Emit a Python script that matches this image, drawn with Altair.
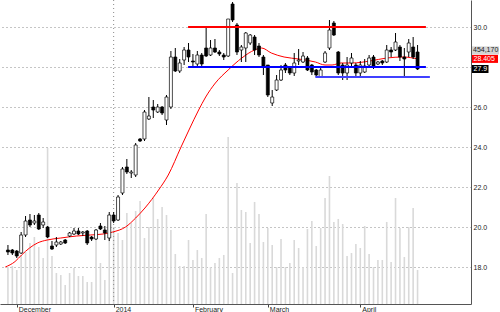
import altair as alt
import pandas as pd

# ---- data ----
opens = [18.85, 18.85, 18.8, 18.7, 19.6, 20.35, 20.2, 20.6, 20.1, 20.0,
         19.05, 19.1, 19.15, 19.35, 19.55, 19.65, 19.8, 19.7, 19.8, 19.5,
         19.4, 20.05, 19.85, 19.45, 20.6, 20.35, 21.7, 23.0, 22.7, 22.6,
         24.4, 24.4, 25.4, 26.0, 25.75, 26.0, 25.35, 26.0, 28.5, 27.8,
         28.35, 28.85, 28.3, 28.15, 28.6, 28.95, 28.6, 28.95, 28.75, 28.6,
         28.55, 31.15, 30.1, 28.85, 28.95, 29.2, 29.5, 29.05, 28.5, 28.1,
         26.2, 26.85, 27.35, 28.1, 28.0, 27.7, 28.3, 28.25, 28.45, 28.1,
         27.85, 27.5, 28.25, 28.95, 30.2, 28.75, 28.1, 27.7, 28.2, 28.1,
         27.7, 27.75, 28.1, 28.5, 28.15, 28.3, 28.25, 28.85, 28.85, 29.0,
         28.5, 28.75, 29.0, 28.75]
highs = [19.1, 18.9, 18.85, 19.75, 20.55, 20.65, 20.6, 20.7, 20.45, 20.05,
         19.3, 19.5, 19.3, 19.4, 19.75, 19.95, 19.95, 19.8, 19.85, 19.55,
         19.9, 20.2, 20.05, 20.75, 20.75, 21.6, 23.0, 23.4, 22.85, 24.2,
         24.45, 25.85, 26.5, 26.35, 26.15, 26.05, 26.6, 28.8, 28.95, 28.4,
         29.0, 29.2, 28.65, 28.8, 28.7, 30.0, 29.35, 29.4, 28.85, 28.7,
         30.4, 31.25, 30.2, 29.1, 29.75, 29.65, 29.6, 29.2, 28.6, 28.1,
         26.85, 27.6, 28.1, 28.2, 28.05, 28.7, 28.9, 28.75, 28.55, 28.15,
         27.9, 27.95, 28.8, 30.35, 30.3, 28.8, 28.2, 28.5, 28.7, 28.2,
         28.3, 28.4, 28.6, 28.6, 28.3, 28.35, 29.1, 29.0, 29.7, 29.1,
         28.95, 29.4, 29.5, 29.1]
lows = [18.6, 18.6, 18.45, 18.65, 19.5, 20.0, 20.1, 19.85, 19.95, 19.45,
        18.85, 19.0, 19.1, 19.15, 19.5, 19.6, 19.6, 19.55, 19.1, 19.3,
        19.35, 19.85, 19.35, 19.3, 20.2, 20.3, 21.6, 22.65, 22.45, 22.5,
        24.25, 24.3, 25.35, 25.45, 25.7, 25.6, 25.1, 25.9, 27.75, 27.7,
        28.1, 28.25, 28.0, 28.0, 28.0, 28.5, 28.55, 28.7, 28.55, 28.35,
        28.5, 30.25, 28.6, 28.25, 28.25, 29.1, 28.6, 28.5, 27.6, 26.5,
        26.05, 26.8, 27.3, 27.7, 27.6, 27.55, 28.1, 28.2, 27.8, 27.6,
        27.5, 27.45, 28.2, 28.85, 29.55, 27.6, 27.35, 27.35, 28.05, 27.5,
        27.45, 27.7, 28.0, 27.9, 28.1, 28.1, 28.2, 28.5, 28.8, 28.3,
        27.45, 28.5, 28.4, 27.85]
closes = [18.75, 18.7, 18.55, 19.6, 20.3, 20.1, 20.3, 19.9, 20.25, 19.5,
          18.9, 19.25, 19.25, 19.2, 19.7, 19.8, 19.65, 19.75, 19.2, 19.4,
          19.85, 19.9, 19.7, 20.6, 20.3, 21.5, 22.9, 22.75, 22.75, 24.1,
          24.3, 25.75, 25.55, 25.85, 26.0, 25.7, 26.5, 28.5, 27.8, 28.2,
          28.85, 28.5, 28.25, 28.6, 28.15, 28.55, 28.95, 28.75, 28.65, 28.5,
          30.4, 30.35, 28.75, 29.0, 29.7, 29.6, 28.85, 28.6, 28.0, 26.6,
          26.5, 27.35, 27.85, 27.85, 27.7, 28.2, 28.35, 28.55, 27.85, 27.75,
          27.6, 27.85, 28.7, 29.85, 29.6, 27.7, 27.7, 28.1, 28.45, 27.7,
          28.1, 28.05, 28.45, 28.0, 28.25, 28.2, 28.85, 28.75, 29.25, 28.5,
          28.4, 29.2, 28.5, 27.9]
volumes = [494000, 508000, 454000, 655000, 695000, 815000, 895000, 762000, 615000, 2084000,
           641000, 414000, 387000, 254000, 414000, 481000, 374000, 374000, 294000, 294000,
           989000, 548000, 321000, 1055000, 1029000, 949000, 855000, 1216000, 1082000, 1242000,
           1376000, 882000, 1029000, 1416000, 1136000, 1296000, 1189000, 989000, 668000, 508000,
           508000, 855000, 588000, 721000, 615000, 1202000, 494000, 548000, 615000, 655000,
           2231000, 414000, 1617000, 1256000, 1229000, 815000, 1363000, 1202000, 828000, 1015000,
           788000, 494000, 868000, 494000, 548000, 855000, 748000, 494000, 1002000, 1109000,
           775000, 1015000, 1416000, 1710000, 1096000, 1136000, 1069000, 641000, 681000, 802000,
           748000, 1042000, 668000, 494000, 588000, 588000, 1096000, 561000, 1416000, 1015000,
           628000, 1029000, 1283000, 454170]

ma_x = [-0.6, 1.6, 3.1, 4.9, 6.7, 8.9, 12, 15.6, 18.7, 21.6, 23.8, 26.7, 29, 31.1,
        34.2, 36.4, 39.3, 41.1, 43.3, 44.9, 47.1, 50, 53.1, 56, 57.6, 59.8, 62.7,
        66, 69.8, 72, 73.6, 75.6, 78.2, 82.2, 86, 89.8, 93]
ma_v = [18.0, 18.27, 18.6, 18.95, 19.2, 19.35, 19.45, 19.55, 19.6, 19.65, 19.75,
        20.0, 20.45, 20.95, 21.85, 22.6, 24.0, 24.85, 25.85, 26.5, 27.2, 27.85,
        28.45, 28.85, 28.95, 28.7, 28.5, 28.4, 28.25, 28.1, 28.1, 28.2, 28.2,
        28.3, 28.45, 28.5, 28.405]

month_ticks = [2, 24, 42, 59, 80]
month_labels = ["December", "2014", "February", "March", "April"]
price_ticks = [18, 20, 22, 24, 26, 28, 30]

level_vals = [30.0, 28.0, 27.5]
level_start = [40.9, 40.9, 69.8]
level_end = [94.9, 94.9, 95.8]
level_kind = ["resistance", "support", "support2"]

# ---- tables ----
candles = pd.DataFrame({
    "i": list(range(len(opens))),
    "open": opens, "high": highs, "low": lows, "close": closes,
    "volume": volumes,
})
ma = pd.DataFrame({"i": ma_x, "v": ma_v})
levels = pd.DataFrame({"y": level_vals, "x1": level_start, "x2": level_end,
                       "kind": level_kind})
year_line = pd.DataFrame({"x": [month_ticks[1]]})
last_ma = pd.DataFrame({"v": [ma_v[-1]], "vol": [volumes[-1]]})
last_close = pd.DataFrame({"v": [closes[-1]]})

FONT = "Liberation Sans"

label_expr = "''"
for t, l in reversed(list(zip(month_ticks, month_labels))):
    label_expr = f"datum.value == {t} ? '{l}' : ({label_expr})"

xscale = alt.Scale(domain=[-0.667, 104], nice=False, zero=False)
xaxis = alt.Axis(values=month_ticks, labelExpr=label_expr, grid=False, title=None,
                 tickSize=3, tickColor="#444", domainColor="#555", labelAlign="left",
                 labelOffset=1.5, labelPadding=-1.5, labelFontSize=7, labelFont=FONT,
                 labelColor="#222", labelBaseline="top", labelOverlap=False,
                 labelFlush=False, labelBound=False)
yscale = alt.Scale(domain=[16.15, 31.35], nice=False, zero=False)
yaxis = alt.Axis(orient="right", values=price_ticks, format=".1f", title=None,
                 grid=True, gridDash=[1, 3], gridColor="#8a8a8a", ticks=False,
                 labelPadding=2, domainColor="#555", labelFontSize=7, labelFont=FONT,
                 labelColor="#222", labelBaseline="middle")


def xenc(field):
    return alt.X(field, type="quantitative", scale=xscale, axis=xaxis)


def yenc(field):
    return alt.Y(field, type="quantitative", scale=yscale, axis=yaxis)


volume_layer = alt.Chart(candles).mark_bar(size=1.6, color="#d9d9d9").encode(
    x=xenc("i"),
    y=alt.Y("volume:Q", scale=alt.Scale(domain=[0, 4061000], nice=False), axis=None),
)

year_rule = alt.Chart(year_line).mark_rule(color="#8a8a8a", strokeDash=[1, 3]).encode(
    x=xenc("x"))

ma_line = alt.Chart(ma).mark_line(color="#ff0000", strokeWidth=1,
                                  interpolate="monotone").encode(
    x=xenc("i"), y=yenc("v"))

wicks = alt.Chart(candles).mark_rule(color="black", strokeWidth=1).encode(
    x=xenc("i"), y=yenc("low"), y2="high")

bodies = alt.Chart(candles).mark_bar(size=3, stroke="black", strokeWidth=0.7).encode(
    x=xenc("i"), y=yenc("open"), y2="close",
    fill=alt.condition("datum.close >= datum.open", alt.value("white"), alt.value("black")),
)

level_lines = alt.Chart(levels).mark_rule().encode(
    x=xenc("x1"), x2="x2", y=yenc("y"),
    color=alt.Color("kind:N", scale=alt.Scale(domain=level_kind,
                                              range=["#ff0000", "#0000ff", "#4040ff"]),
                    legend=None),
    strokeWidth=alt.StrokeWidth("kind:N", scale=alt.Scale(domain=level_kind,
                                                          range=[2, 2, 1]),
                                legend=None),
)

vol_box = alt.Chart(last_ma).transform_calculate(
    t="datum.v + 0.2", b="datum.v - 0.2").mark_rect(
    color="#d4d4d4", yOffset=-8.5, y2Offset=-8.5).encode(
    x=alt.value(472), x2=alt.value(499), y=yenc("t:Q"), y2="b:Q")
vol_text = alt.Chart(last_ma).transform_calculate(
    txt="format(datum.vol, ',')").mark_text(
    align="left", baseline="middle", fontSize=7, font=FONT, color="#222",
    yOffset=-8.5).encode(x=alt.value(473), y=yenc("v:Q"), text="txt:N")

ma_box = alt.Chart(last_ma).transform_calculate(
    t="datum.v + 0.2", b="datum.v - 0.2").mark_rect(color="#ff0000").encode(
    x=alt.value(472), x2=alt.value(498), y=yenc("t:Q"), y2="b:Q")
ma_text = alt.Chart(last_ma).transform_calculate(
    txt="format(datum.v, '.3f')").mark_text(
    align="left", baseline="middle", fontSize=7, font=FONT, color="white").encode(
    x=alt.value(473.5), y=yenc("v:Q"), text="txt:N")

close_box = alt.Chart(last_close).transform_calculate(
    t="datum.v + 0.2", b="datum.v - 0.2").mark_rect(color="black").encode(
    x=alt.value(472), x2=alt.value(488.5), y=yenc("t:Q"), y2="b:Q")
close_text = alt.Chart(last_close).transform_calculate(
    txt="format(datum.v, '.1f')").mark_text(
    align="left", baseline="middle", fontSize=7, font=FONT, color="white").encode(
    x=alt.value(473.5), y=yenc("v:Q"), text="txt:N")

price_layers = alt.layer(year_rule, ma_line, wicks, bodies, level_lines,
                         vol_box, vol_text, ma_box, ma_text, close_box, close_text)

chart = alt.layer(volume_layer, price_layers).resolve_scale(y="independent").properties(
    width=471, height=304,
    padding={"left": 0, "top": 0, "right": 29, "bottom": 8},
    autosize=alt.AutoSizeParams(type="none"),
    background="white",
).configure_view(stroke=None)

chart.save("out.html", embed_options={"renderer": "svg", "actions": False})
